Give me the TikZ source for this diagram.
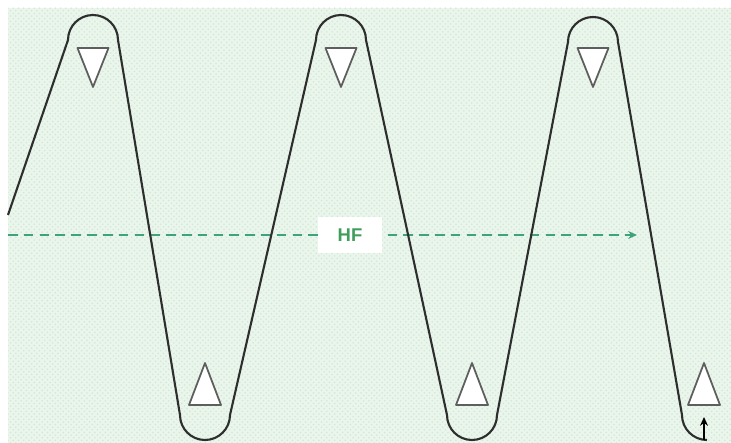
\documentclass[tikz,border=0pt]{standalone}
\usepackage{fontspec}
\setsansfont{Liberation Sans}
\usepackage{xcolor}
\definecolor{waveGray}{HTML}{2E2E2E}
\definecolor{markGray}{HTML}{5E5E5E}
\definecolor{hfGreen}{HTML}{3E9E5C}
\definecolor{hfDash}{HTML}{3FA27E}
\definecolor{bgMint}{HTML}{EAF5EC}
\definecolor{bgDot}{HTML}{D2E8D6}
\usepackage{tikz}
\usetikzlibrary{patterns,arrows.meta}

\begin{document}
\begin{tikzpicture}[>={Stealth[length=5pt,width=4.5pt]}, x=0.02cm, y=0.02cm]
  \useasboundingbox (0,0) rectangle (731,443);
  % ------- background -------
  \fill[bgMint] (8,0) rectangle (731,435);
  \fill[pattern=crosshatch dots, pattern color=bgDot] (8,0) rectangle (731,435);
  % ------- direction of travel -------
  \coordinate (hfStart) at (8,208);
  \coordinate (hfEnd) at (637,208);
  \draw[->, hfDash, line width=1.1pt, dash pattern=on 5.5pt off 3.5pt] (hfStart) -- (hfEnd);
  \node[fill=white, minimum width=1.3cm, minimum height=0.72cm, text=hfGreen,
        font=\sffamily\bfseries\fontsize{10.5}{12}\selectfont] (hf) at (350,208) {HF};
  % ------- the meander -------
  \draw[waveGray, line width=1.2pt, line join=round]
    (8,228) -- (68,403) arc[start angle=180, end angle=0, radius=25]
    -- (180,28) arc[start angle=180, end angle=360, radius=25]
    -- (316,403) arc[start angle=180, end angle=0, radius=25]
    -- (447,28) arc[start angle=180, end angle=360, radius=25]
    -- (568,401) arc[start angle=180, end angle=0, radius=25]
    -- (682,28) arc[start angle=180, end angle=270, radius=25];
  % ------- turning marks -------
  \foreach \x in {93,341,593} {
    \draw[markGray, line width=1pt, fill=white, line join=round]
      (\x-15.5,395) -- (\x+15.5,395) -- (\x,356) -- cycle;
  }
  \foreach \x in {205,472,704} {
    \draw[markGray, line width=1pt, fill=white, line join=round]
      (\x-16,38) -- (\x+16,38) -- (\x,80) -- cycle;
  }
  \coordinate (endTail) at (704,3);
  \coordinate (endTip) at (704,26);
  \draw[->, black, line width=0.9pt] (endTail) -- (endTip);
\end{tikzpicture}
\end{document}
